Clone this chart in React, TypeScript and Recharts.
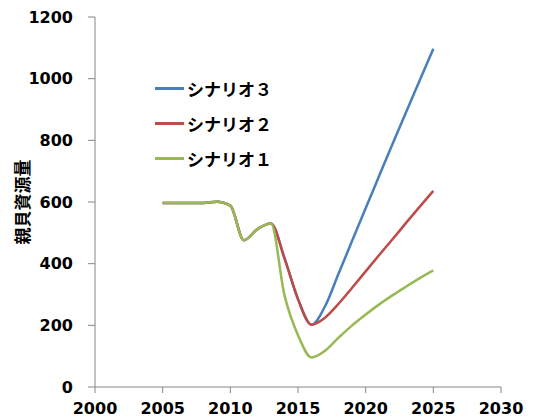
import React from "react";
import { LineChart, Line, XAxis, YAxis, Label } from "recharts";

const years = [2005, 2006, 2007, 2008, 2009, 2010, 2011, 2012, 2013, 2014, 2015, 2016, 2017, 2018, 2019, 2020, 2021, 2022, 2023, 2024, 2025];
const scenario1 = [597, 597, 597, 597, 601, 588, 476, 512, 530, 298, 168, 96, 118, 160, 200, 235, 268, 298, 326, 353, 378];
const scenario2 = [597, 597, 597, 597, 601, 588, 476, 512, 530, 418, 285, 202, 225, 270, 322, 375, 428, 480, 533, 585, 636];
const scenario3 = [597, 597, 597, 597, 601, 588, 476, 512, 530, 418, 285, 202, 262, 368, 474, 580, 685, 790, 893, 995, 1097];

const xTicks = [2000, 2005, 2010, 2015, 2020, 2025, 2030];
const yTicks = [0, 200, 400, 600, 800, 1000, 1200];

const series = [
  { key: "s3", name: "シナリオ３", color: "#4a7ebb" },
  { key: "s2", name: "シナリオ２", color: "#be4b48" },
  { key: "s1", name: "シナリオ１", color: "#98b954" },
];

const data = years.map((year, i) => ({
  year,
  s1: scenario1[i],
  s2: scenario2[i],
  s3: scenario3[i],
}));

const axisColor = "#868686";
const tickStyle = {
  fill: "#000",
  fontSize: 16,
  fontWeight: 700,
  fontFamily: "DejaVu Sans",
};

export default function App() {
  return (
    <div style={{ position: "absolute", left: 0, top: 0, width: 535, height: 420, background: "#fff" }}>
      <LineChart
        width={535}
        height={420}
        data={data}
        margin={{ top: 17, right: 34, left: 35, bottom: 0 }}
      >
        <XAxis
          dataKey="year"
          type="number"
          domain={[2000, 2030]}
          ticks={xTicks}
          height={33}
          tick={tickStyle}
          tickSize={6}
          tickMargin={10}
          stroke={axisColor}
          interval={0}
        />
        <YAxis
          type="number"
          domain={[0, 1200]}
          ticks={yTicks}
          width={60}
          tick={tickStyle}
          tickSize={7}
          tickMargin={15}
          stroke={axisColor}
          interval={0}
        >
          <Label
            value="親貝資源量"
            angle={-90}
            position="center"
            dx={-42}
            style={{
              fontFamily: "Noto Sans CJK JP",
              fontWeight: 700,
              fontSize: 17,
              fill: "#000",
            }}
          />
        </YAxis>
        {series.map((s) => (
          <Line
            key={s.key}
            dataKey={s.key}
            name={s.name}
            type="monotone"
            stroke={s.color}
            strokeWidth={2.5}
            dot={false}
            isAnimationActive={false}
          />
        ))}
      </LineChart>
      <div style={{ position: "absolute", left: 155, top: 71 }}>
        {series.map((s) => (
          <div key={s.key} style={{ display: "flex", alignItems: "center", height: 35 }}>
            <div style={{ width: 29, height: 2.5, background: s.color, marginRight: 3 }} />
            <span
              style={{
                fontFamily: "Noto Sans CJK JP",
                fontWeight: 700,
                fontSize: 17,
                color: "#000",
              }}
            >
              {s.name}
            </span>
          </div>
        ))}
      </div>
    </div>
  );
}
